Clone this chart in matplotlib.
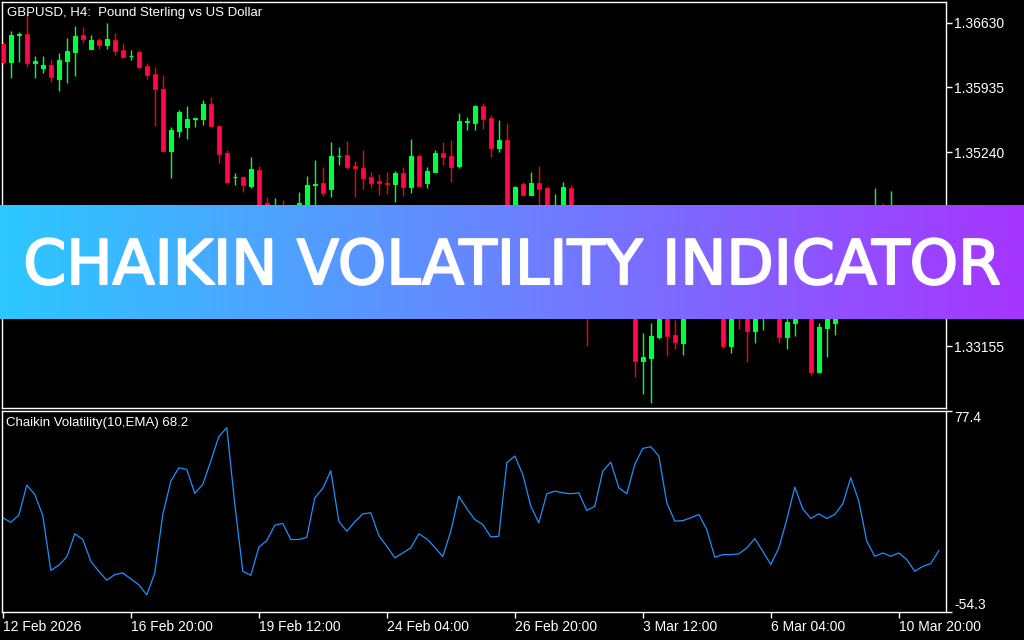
import numpy as np
import matplotlib
matplotlib.use("Agg")
import matplotlib.pyplot as plt
import matplotlib.patheffects as pe
from matplotlib.colors import LinearSegmentedColormap

# ---------------- data ----------------
opens = [1.36401, 1.36208, 1.36498, 1.36509, 1.36197, 1.36144, 1.36176, 1.36026, 1.36219, 1.36316,
         1.36498, 1.36348, 1.36444, 1.36391, 1.36444, 1.36337, 1.36273, 1.36316, 1.36165, 1.36079,
         1.35918, 1.35252, 1.35467, 1.35510, 1.35596, 1.35596, 1.35757, 1.35521, 1.35231, 1.34968,
         1.34973, 1.34876, 1.35048, 1.34694, 1.34511, 1.34619, 1.34533, 1.34576, 1.34597, 1.34887,
         1.34909, 1.34844, 1.35194, 1.35209, 1.35091, 1.35070, 1.34973, 1.34925, 1.34914, 1.34898,
         1.35016, 1.34866, 1.35199, 1.34909, 1.35027, 1.35231, 1.35199, 1.35091, 1.35569, 1.35553,
         1.35736, 1.35607, 1.35284, 1.35370, 1.34404, 1.34898, 1.34780, 1.34909, 1.34855, 1.34511,
         1.34597, 1.34855, 1.34565, 1.34189, 1.33652, 1.33974, 1.33813, 1.33921, 1.33706, 1.33760,
         1.32997, 1.33029, 1.33255, 1.33598, 1.33276, 1.33190, 1.33545, 1.33760, 1.33921, 1.33813,
         1.33652, 1.33158, 1.33598, 1.33491, 1.33319, 1.33491, 1.33652, 1.33545, 1.33255, 1.33405,
         1.33491, 1.33491, 1.32879, 1.33351, 1.33405, 1.33523, 1.33760, 1.34082, 1.34296, 1.34404,
         1.34597, 1.34490, 1.34640, 1.34533, 1.34597, 1.34457, 1.34565, 1.34490]
highs = [1.36423, 1.36541, 1.36530, 1.36724, 1.36273, 1.36273, 1.36240, 1.36305, 1.36466, 1.36595,
         1.36584, 1.36498, 1.36466, 1.36627, 1.36520, 1.36412, 1.36337, 1.36337, 1.36197, 1.36154,
         1.36068, 1.35510, 1.35693, 1.35736, 1.35607, 1.35800, 1.35832, 1.35521, 1.35263, 1.35016,
         1.34984, 1.35188, 1.35091, 1.34758, 1.34748, 1.34726, 1.34640, 1.34812, 1.34984, 1.35156,
         1.35081, 1.35349, 1.35295, 1.35360, 1.35145, 1.35263, 1.35027, 1.35005, 1.35027, 1.35038,
         1.35081, 1.35381, 1.35220, 1.35081, 1.35263, 1.35349, 1.35370, 1.35660, 1.35617, 1.35746,
         1.35768, 1.35639, 1.35585, 1.35553, 1.34876, 1.34919, 1.35027, 1.35091, 1.34876, 1.34790,
         1.34919, 1.34887, 1.34619, 1.34296, 1.34082, 1.34060, 1.34028, 1.33996, 1.33867, 1.33813,
         1.33298, 1.33405, 1.33760, 1.33674, 1.33437, 1.33652, 1.33867, 1.34028, 1.33996, 1.33888,
         1.33738, 1.33598, 1.33706, 1.33598, 1.33652, 1.33760, 1.33760, 1.33598, 1.33545, 1.33598,
         1.33674, 1.33598, 1.33405, 1.33545, 1.33652, 1.33867, 1.34243, 1.34457, 1.34565, 1.34855,
         1.34694, 1.34823, 1.34662, 1.34651, 1.34640, 1.34619, 1.34630, 1.34619]
lows = [1.36187, 1.36036, 1.36208, 1.36154, 1.36036, 1.36090, 1.35993, 1.35897, 1.35983, 1.36058,
        1.36412, 1.36348, 1.36348, 1.36348, 1.36283, 1.36251, 1.36230, 1.36133, 1.36026, 1.35521,
        1.35242, 1.34962, 1.35403, 1.35381, 1.35510, 1.35531, 1.35521, 1.35123, 1.34909, 1.34887,
        1.34812, 1.34855, 1.34350, 1.34457, 1.34404, 1.34404, 1.34425, 1.34490, 1.34533, 1.34619,
        1.34769, 1.34758, 1.35102, 1.35059, 1.34758, 1.34844, 1.34855, 1.34780, 1.34790, 1.34705,
        1.34769, 1.34801, 1.34876, 1.34855, 1.35027, 1.35102, 1.34919, 1.35070, 1.35478, 1.35478,
        1.35489, 1.35188, 1.35242, 1.34296, 1.34296, 1.34769, 1.34780, 1.34619, 1.34350, 1.34404,
        1.34511, 1.34457, 1.34082, 1.33158, 1.33545, 1.33652, 1.33706, 1.33598, 1.33545, 1.32825,
        1.32642, 1.32546, 1.33233, 1.33051, 1.33126, 1.33061, 1.33459, 1.33652, 1.33706, 1.33523,
        1.33136, 1.33083, 1.33341, 1.32986, 1.33190, 1.33330, 1.33459, 1.33190, 1.33126, 1.33265,
        1.33459, 1.32847, 1.32868, 1.33040, 1.33276, 1.33459, 1.33706, 1.33974, 1.34189, 1.34296,
        1.34382, 1.34404, 1.34447, 1.34404, 1.34350, 1.34382, 1.34404, 1.34425]
closes = [1.36208, 1.36498, 1.36509, 1.36197, 1.36219, 1.36176, 1.36047, 1.36230, 1.36326, 1.36487,
          1.36455, 1.36444, 1.36391, 1.36455, 1.36326, 1.36262, 1.36278, 1.36154, 1.36068, 1.35918,
          1.35252, 1.35478, 1.35671, 1.35596, 1.35607, 1.35757, 1.35521, 1.35220, 1.34919, 1.34978,
          1.34887, 1.35059, 1.34457, 1.34565, 1.34662, 1.34490, 1.34597, 1.34694, 1.34887, 1.34898,
          1.34801, 1.35199, 1.35204, 1.35081, 1.35070, 1.34962, 1.34909, 1.34914, 1.34903, 1.35016,
          1.34866, 1.35199, 1.34876, 1.35037, 1.35231, 1.35188, 1.35081, 1.35574, 1.35580, 1.35736,
          1.35596, 1.35284, 1.35370, 1.34382, 1.34866, 1.34780, 1.34909, 1.34844, 1.34457, 1.34672,
          1.34866, 1.34565, 1.34189, 1.33652, 1.33974, 1.33813, 1.33921, 1.33706, 1.33759, 1.32997,
          1.33040, 1.33265, 1.33652, 1.33265, 1.33201, 1.33545, 1.33760, 1.33921, 1.33813, 1.33652,
          1.33158, 1.33491, 1.33459, 1.33319, 1.33545, 1.33652, 1.33545, 1.33255, 1.33416, 1.33491,
          1.33598, 1.32879, 1.33362, 1.33459, 1.33523, 1.33760, 1.34082, 1.34296, 1.34404, 1.34619,
          1.34490, 1.34640, 1.34533, 1.34597, 1.34457, 1.34565, 1.34490, 1.34576]
chaikin = [7.4, 4.5, 9.1, 28.8, 22.7, 8.9, -27.0, -23.7, -18.2, -3.1,
           -6.8, -21.1, -27.6, -33.5, -29.8, -28.7, -32.6, -36.4, -43.1, -28.7,
           9.6, 31.4, 40.2, 39.1, 23.4, 29.3, 44.6, 60.6, 66.5, 16.2,
           -27.6, -30.3, -11.9, -7.5, 2.6, 3.7, -6.8, -6.8, -5.3, 20.5,
           26.7, 38.3, 5.2, -1.4, 4.8, 10.0, 10.7, -4.2, -11.2, -18.8,
           -15.6, -12.3, -3.1, -6.4, -11.9, -18.0, -1.4, 21.6, 13.5, 6.3,
           3.0, -5.1, -4.7, 43.5, 47.9, 35.8, 15.0, 4.1, 23.2, 24.9,
           23.8, 23.2, 23.8, 12.2, 15.0, 38.0, 43.9, 27.1, 23.2, 42.4,
           52.9, 54.0, 47.9, 17.3, 5.2, 5.6, 7.4, 9.6, -0.3, -18.4,
           -16.7, -16.7, -16.2, -12.3, -6.2, -14.5, -23.2, -12.3, 6.3, 27.5,
           13.3, 7.0, 10.0, 7.0, 9.6, 16.6, 33.7, 18.3, -8.0, -17.8,
           -15.6, -17.8, -15.6, -20.0, -27.6, -24.4, -22.6, -14.1]
price_ticks = [1.36630, 1.35935, 1.35240, 1.33155]
ind_ticks = [-54.3, 77.4]
date_tick_pos = [0, 16, 32, 48, 64, 80, 96, 112]
date_labels = ["12 Feb 2026", "16 Feb 20:00", "19 Feb 12:00", "24 Feb 04:00",
               "26 Feb 20:00", "3 Mar 12:00", "6 Mar 04:00", "10 Mar 20:00"]
chart_title = "GBPUSD, H4:  Pound Sterling vs US Dollar"
ind_title = "Chaikin Volatility(10,EMA) 68.2"
banner_text = "CHAIKIN VOLATILITY INDICATOR"

# ---------------- figure ----------------
W, H = 1024, 640
fig = plt.figure(figsize=(W / 100, H / 100), dpi=100, facecolor="black")
FONT = "Liberation Sans"


def px_axes(l, t, r, b, **kw):
    return fig.add_axes([l / W, 1 - b / H, (r - l) / W, (b - t) / H], **kw)


x = np.arange(len(opens))
XLIM = (-0.1, 117.9)

ax = px_axes(2, 2, 946, 408)
ax.set_facecolor("black")
o = np.array(opens); c = np.array(closes); hi = np.array(highs); lo = np.array(lows)
up = c >= o
GREEN = "#00FF3C"
RED = "#FF0000"
RED_FILL = "#FF0A55"
ax.vlines(x[up], lo[up], hi[up], color=GREEN, lw=1.0, zorder=2)
ax.vlines(x[~up], lo[~up], hi[~up], color=RED, lw=1.0, zorder=2)
ax.bar(x[up], c[up] - o[up], bottom=o[up], width=0.55, color=GREEN,
       edgecolor=GREEN, linewidth=0.8, zorder=3)
ax.bar(x[~up], c[~up] - o[~up], bottom=o[~up], width=0.55, color=RED_FILL,
       edgecolor=RED, linewidth=0.8, zorder=3)
ax.set_xlim(*XLIM)
ax.set_ylim(1.32492, 1.36853)
ax.set_xticks([])
ax.yaxis.tick_right()
ax.set_yticks(price_ticks)
ax.set_yticklabels([f"{v:.5f}" for v in price_ticks])
ax.tick_params(axis="y", colors="white", direction="out", length=4, width=1,
               labelsize=10, pad=2)
for lbl in ax.get_yticklabels():
    lbl.set_fontfamily(FONT)
for s in ax.spines.values():
    s.set_color("white"); s.set_linewidth(1.0)

ax2 = px_axes(2, 411, 946, 612)
ax2.set_facecolor("black")
ax2.plot(x, chaikin, color="#1E90FF", lw=0.9)
ax2.set_xlim(*XLIM)
ax2.set_ylim(ind_ticks[0], ind_ticks[1])
ax2.yaxis.tick_right()
ax2.set_yticks(ind_ticks)
ax2.set_yticklabels([f"{v:.1f}" for v in ind_ticks])
ax2.set_xticks(date_tick_pos)
ax2.set_xticklabels(date_labels)
ax2.tick_params(colors="white", direction="out", length=4, width=1, labelsize=10, pad=2)
for lbl in ax2.get_xticklabels():
    lbl.set_horizontalalignment("left"); lbl.set_fontfamily(FONT)
ylbls = ax2.get_yticklabels()
ylbls[0].set_verticalalignment("bottom")
ylbls[1].set_verticalalignment("top")
for lbl in ylbls:
    lbl.set_fontfamily(FONT)
for s in ax2.spines.values():
    s.set_color("white"); s.set_linewidth(1.0)

fig.text(7 / W, 1 - 13 / H, chart_title, color="white", fontsize=9.5,
         family=FONT, va="center", ha="left")
fig.text(6 / W, 1 - 423 / H, ind_title, color="white", fontsize=9.5,
         family=FONT, va="center", ha="left")

# ---------------- banner ----------------
bax = px_axes(0, 204.7, 1024, 319.5)
cmap = LinearSegmentedColormap.from_list("ban", ["#2CC8FF", "#6A82FF", "#A635FF"])
grad = np.linspace(0, 1, 512).reshape(1, -1)
bax.imshow(grad, aspect="auto", cmap=cmap, extent=(0, 1, 0, 1))
bax.set_xlim(0, 1); bax.set_ylim(0, 1)
bax.axis("off")
bt = bax.text(0.5, (319.5 - 284) / 114.8, banner_text, color="white", fontsize=40,
              family="DejaVu Sans", fontweight="normal", ha="center", va="baseline",
              transform=bax.transAxes,
              path_effects=[pe.withStroke(linewidth=1.5, foreground="white")])
fig.canvas.draw()
bb = bt.get_window_extent()
bt.set_fontsize(40 * 979 / bb.width)

fig.savefig("out.png", dpi=100, facecolor="black")
